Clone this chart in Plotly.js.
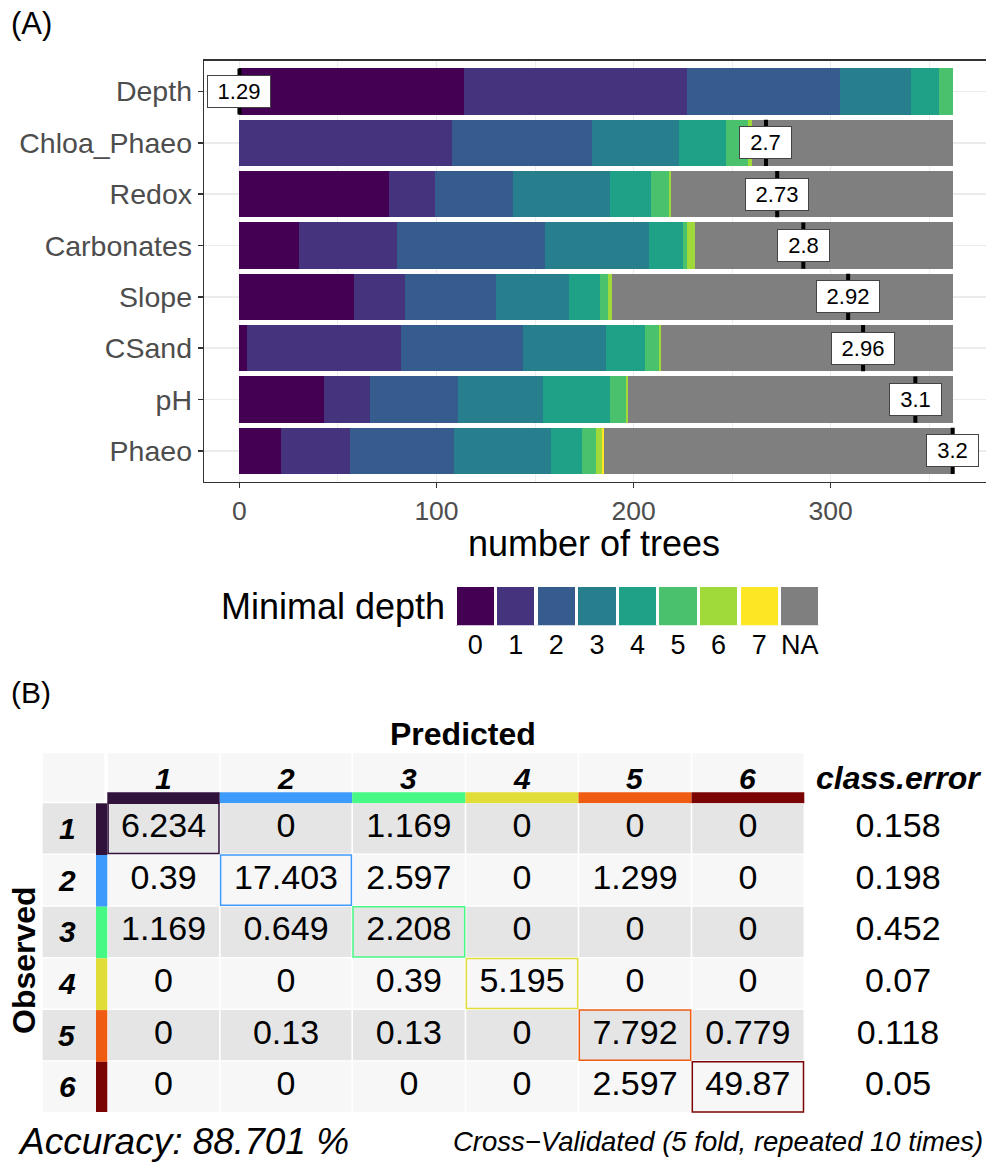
<!DOCTYPE html>
<html><head><meta charset="utf-8">
<script src="https://cdn.plot.ly/plotly-3.0.1.min.js"></script>
<style>html,body{margin:0;padding:0;background:#fff;}#chart{width:986px;height:1163px;}</style>
</head><body><div id="chart"></div>
<script>
// ---------- Panel A data: minimal depth distribution ----------
const variables = ['Depth','Chloa_Phaeo','Redox','Carbonates','Slope','CSand','pH','Phaeo'];
const depth0  = [114,   0, 76, 30, 58,  4, 43, 21];
const depth1  = [113, 108, 23, 50, 26, 78, 23, 35];
const depth2  = [ 78,  71, 40, 75, 46, 62, 45, 53];
const depth3  = [ 36,  44, 49, 53, 37, 42, 43, 49];
const depth4  = [ 14,  24, 21, 17, 16, 20, 34, 16];
const depth5  = [  7,  11,  9,  2,  4,  7,  8,  7];
const depth6  = [  0,   2,  1,  4,  2,  1,  1,  3];
const depth7  = [  0,   0,  0,  0,  0,  0,  0,  1];
const depthNA = [  0, 102,143,131,173,148,165,177];
const meanMinDepth = [1.29, 2.7, 2.73, 2.8, 2.92, 2.96, 3.1, 3.2];
const depthLevels = ['0','1','2','3','4','5','6','7','NA'];

// ---------- Panel B data: confusion matrix ----------
const classes = ['1','2','3','4','5','6'];
const confRow1 = [6.234, 0, 1.169, 0, 0, 0];
const confRow2 = [0.39, 17.403, 2.597, 0, 1.299, 0];
const confRow3 = [1.169, 0.649, 2.208, 0, 0, 0];
const confRow4 = [0, 0, 0.39, 5.195, 0, 0];
const confRow5 = [0, 0.13, 0.13, 0, 7.792, 0.779];
const confRow6 = [0, 0, 0, 0, 2.597, 49.87];
const classError = [0.158, 0.198, 0.452, 0.07, 0.118, 0.05];
const accuracyText = 'Accuracy: 88.701 %';
const cvText = 'Cross\u2212Validated (5 fold, repeated 10 times)';

// ---------- styles ----------
const W = 986, H = 1163;
const FONT = 'Liberation Sans, Arial, Helvetica, sans-serif';
const depthColors = ['#440154','#46337E','#365C8D','#277F8E','#1FA187','#4AC16D','#9FDA3A','#FDE725','#7F7F7F'];
const classColors = ['#30123B','#3E9BFE','#46F884','#E1DD37','#F05B12','#7A0403'];
const py = v => 1 - v / H;
const pxp = v => v / W;

const counts = [depth0, depth1, depth2, depth3, depth4, depth5, depth6, depth7, depthNA];
const idx = variables.map((_, i) => i);
const traces = [];
counts.forEach((arr, k) => {
  traces.push({type:'bar', orientation:'h', x: arr, y: idx, width: 0.9,
    marker:{color: depthColors[k], line:{width:0}}, xaxis:'x', yaxis:'y',
    showlegend:false, hoverinfo:'skip'});
});
const totals = idx.map(i => counts.reduce((s, a) => s + a[i], 0));
const maxTrees = Math.max(...totals);
const mn = Math.min(...meanMinDepth), mx = Math.max(...meanMinDepth);
const labelPos = meanMinDepth.map(m => (m - mn) / (mx - mn) * maxTrees);
const ex = [], ey = [];
labelPos.forEach((p, i) => { ex.push(p, p, null); ey.push(i - 0.45, i + 0.45, null); });
traces.push({type:'scatter', mode:'lines', x: ex, y: ey, line:{color:'#000', width:4},
  xaxis:'x', yaxis:'y', showlegend:false, hoverinfo:'skip'});

// legend as its own small axis
traces.push({type:'bar', x: depthLevels, y: depthLevels.map(() => 1), width: 0.94,
  marker:{color: depthColors, line:{color:'#fff', width:1}}, xaxis:'x3', yaxis:'y3',
  showlegend:false, hoverinfo:'skip'});

// ---------- table geometry ----------
const T = {headTop:753.3, headBot:792.3, barBot:803.3, rowTop0:803.3, rowPitch:51.7, rowH:50.2,
  cornerL:42.7, cornerR:104.3, labelR:96, barL:96, barR:107.3,
  colEdges:[107.3, 219.8, 352.2, 465.5, 578.5, 691.5, 804.3], errX:898, labelX:67,
  oddBg:'#E5E5E5', evenBg:'#F7F7F7', headBg:'#F7F7F7'};
const conf = [confRow1, confRow2, confRow3, confRow4, confRow5, confRow6];
const colC = classes.map((_, j) => (T.colEdges[j] + T.colEdges[j + 1]) / 2);
const rowTop = classes.map((_, i) => T.rowTop0 + i * T.rowPitch);
const rowC = rowTop.map(t => t + T.rowH / 2);

const shapes = [];
const rect = (x0, x1, y0, y1, fill, lc, lw) => shapes.push({type:'rect', xref:'x2', yref:'y2',
  x0, x1, y0, y1, fillcolor: fill, line:{color: lc || fill, width: lw || 0}, layer:'below'});
rect(T.cornerL, T.cornerR, T.headTop, T.barBot - 1.6, T.headBg);
classes.forEach((c, j) => {
  rect(T.colEdges[j] + 0.8, T.colEdges[j + 1] - 0.8, T.headTop, T.headBot, T.headBg);
  rect(T.colEdges[j], T.colEdges[j + 1], T.headBot, T.barBot, classColors[j]);
});
classes.forEach((c, i) => {
  const bg = i % 2 === 0 ? T.oddBg : T.evenBg;
  const t = rowTop[i];
  rect(T.cornerL, T.labelR, t, t + T.rowH, bg);
  rect(T.barL, T.barR, t, t + (i < classes.length - 1 ? T.rowPitch : T.rowH), classColors[i]);
  classes.forEach((c2, j) => {
    const diag = i === j;
    rect(T.colEdges[j] + 0.8, T.colEdges[j + 1] - 0.8, t, t + T.rowH, bg,
      diag ? classColors[i] : bg, diag ? 1.5 : 0);
  });
});

// cell values via a text trace on the table axes
const tx = [], tyy = [], tt = [];
conf.forEach((row, i) => row.forEach((v, j) => { tx.push(colC[j]); tyy.push(rowC[i]); tt.push(String(v)); }));
classError.forEach((v, i) => { tx.push(T.errX); tyy.push(rowC[i]); tt.push(String(v)); });
traces.push({type:'scatter', mode:'text', x: tx, y: tyy, text: tt, textposition:'middle center',
  textfont:{family: FONT, size: 34, color:'#000'}, xaxis:'x2', yaxis:'y2', showlegend:false, hoverinfo:'skip', cliponaxis:false});

// ---------- annotations ----------
const ann = [];
labelPos.forEach((p, i) => {
  const s = String(meanMinDepth[i]);
  ann.push({x: p, y: i, xref:'x', yref:'y', text: s, showarrow:false, xanchor:'center', yanchor:'middle',
    font:{family: FONT, size: 22, color:'#000'}, bgcolor:'#fff', bordercolor:'#444',
    borderwidth:1, borderpad:4, width: s.length * 11 + 10, height: 23});
});
const pAnn = (x, y, text, size, extra) => ann.push(Object.assign({x: pxp(x), y: py(y), xref:'paper', yref:'paper',
  text, showarrow:false, xanchor:'center', yanchor:'middle', font:{family: FONT, size, color:'#000'}}, extra || {}));
pAnn(9, 24, '(A)', 31, {xanchor:'left'});
pAnn(594, 543, 'number of trees', 36);
pAnn(447, 606, 'Minimal depth', 36, {xanchor:'right'});
pAnn(9, 692, '(B)', 30, {xanchor:'left'});
pAnn(463, 734, '<b>Predicted</b>', 32);
pAnn(24, 960, '<b>Observed</b>', 32, {textangle:-90});
pAnn(16, 1141, '<i>' + accuracyText + '</i>', 37, {xanchor:'left'});
pAnn(985, 1141, '<i>' + cvText + '</i>', 27.5, {xanchor:'right'});
const tAnn = (x, y, text, size) => ann.push({x, y, xref:'x2', yref:'y2', text, showarrow:false,
  xanchor:'center', yanchor:'middle', font:{family: FONT, size, color:'#000'}});
classes.forEach((c, j) => tAnn(colC[j], 778, '<b><i>' + c + '</i></b>', 30));
tAnn(T.errX, 778, '<b><i>class.error</i></b>', 32);
classes.forEach((c, i) => tAnn(T.labelX, rowC[i], '<b><i>' + c + '</i></b>', 30));

const layout = {
  width: W, height: H, margin:{l:0, r:0, t:0, b:0},
  paper_bgcolor:'#fff', plot_bgcolor:'rgba(0,0,0,0)',
  font:{family: FONT, color:'#000'},
  barmode:'stack', bargap:0.1,
  xaxis:{domain:[204 / W, 1], range:[-18.0, 378.9], tickvals:[0, 100, 200, 300],
    ticks:'outside', ticklen:5, tickwidth:1.5, tickcolor:'#333',
    showline:true, linecolor:'#333', linewidth:1.3, mirror:true,
    showgrid:true, gridcolor:'#EBEBEB', gridwidth:1.8,
    minor:{tickvals:[50, 150, 250, 350], showgrid:true, gridcolor:'#EEEEEE', gridwidth:1, ticks:''},
    zeroline:false, tickfont:{size:26.5, color:'#4D4D4D'}, anchor:'y', fixedrange:true},
  yaxis:{domain:[py(481.7), py(60.7)], range:[7.6, -0.6], tickvals: idx, ticktext: variables,
    ticks:'outside', ticklen:5, tickwidth:1.5, tickcolor:'#333',
    showline:true, linecolor:'#333', linewidth:1.3, mirror:false,
    showgrid:true, gridcolor:'#EBEBEB', gridwidth:1.8, zeroline:false,
    tickfont:{size:28.5, color:'#4D4D4D'}, anchor:'x', fixedrange:true},
  xaxis2:{domain:[0, 1], range:[0, W], visible:false, anchor:'y2', fixedrange:true},
  yaxis2:{domain:[0, py(660)], range:[H, 660], visible:false, anchor:'x2', fixedrange:true},
  xaxis3:{domain:[455 / W, 820 / W], type:'category', categoryorder:'array', categoryarray: depthLevels,
    showgrid:false, showline:false, zeroline:false, ticks:'', tickfont:{size:27, color:'#000'}, anchor:'y3', fixedrange:true},
  yaxis3:{domain:[py(625.5), py(586)], range:[0, 1], visible:false, anchor:'x3', fixedrange:true},
  shapes, annotations: ann, showlegend:false
};
Plotly.newPlot('chart', traces, layout, {staticPlot:true, displayModeBar:false});
</script></body></html>
